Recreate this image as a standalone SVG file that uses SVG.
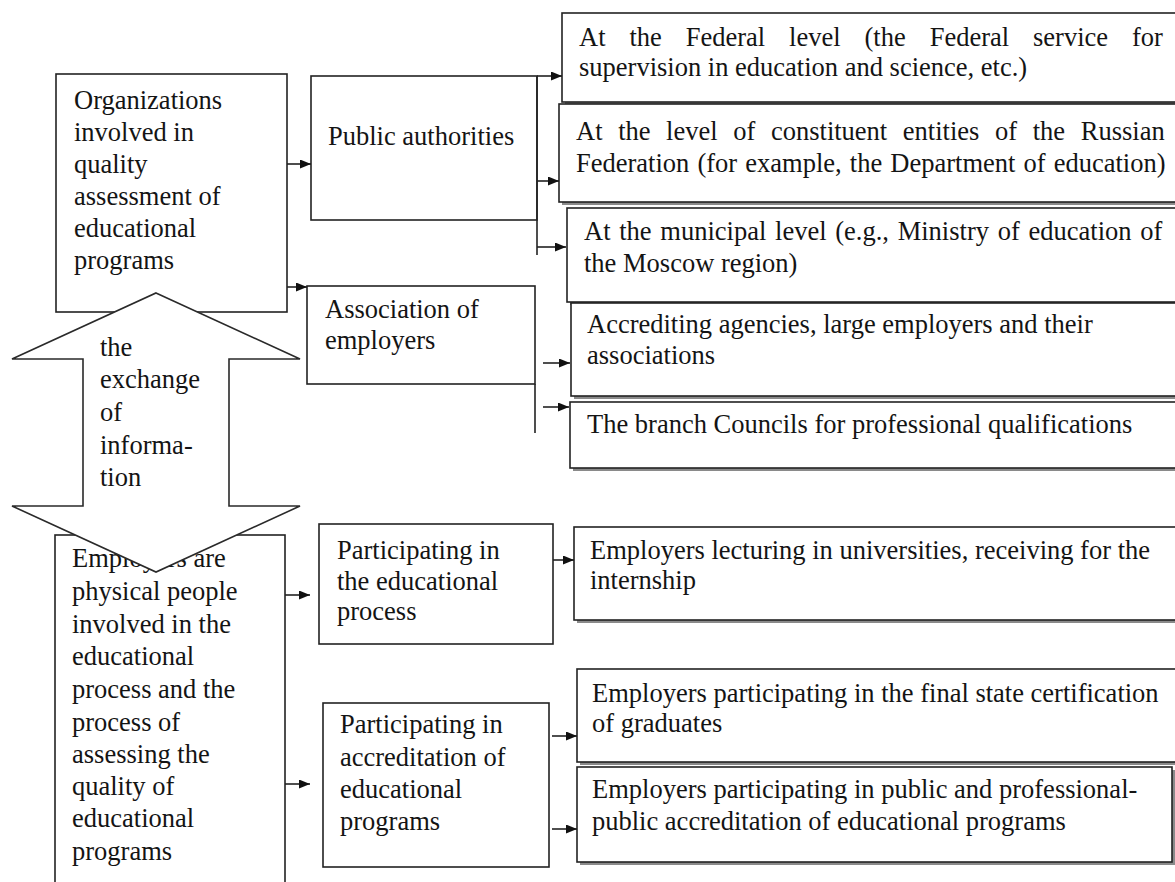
<svg xmlns="http://www.w3.org/2000/svg" width="1175" height="882" viewBox="0 0 1175 882">
<style>
.box{fill:#fff;stroke:#222;stroke-width:1.6}
.sh{fill:#8a8a8a}
.t{font-family:"Liberation Serif","Times New Roman",serif;font-size:26.5px;fill:#141414}
.conn line{stroke:#222;stroke-width:1.6}
.big{fill:#fff;stroke:#2a2a2a;stroke-width:1.6}
</style>
<defs>
<marker id="ah" markerUnits="userSpaceOnUse" markerWidth="11" markerHeight="9" refX="11" refY="4.5" orient="auto">
<path d="M0,0 L11,4.5 L0,9 z" fill="#111"/>
</marker>
</defs>
<rect width="1175" height="882" fill="#fff"/>

<g id="emp">
<rect class="box" x="55" y="535" width="230" height="370"/>
<text class="t" x="72"><tspan x="72" y="567">Employers are</tspan><tspan x="72" y="600">physical people</tspan><tspan x="72" y="633">involved in the</tspan><tspan x="72" y="665">educational</tspan><tspan x="72" y="698">process and the</tspan><tspan x="72" y="731">process of</tspan><tspan x="72" y="763">assessing the</tspan><tspan x="72" y="795">quality of</tspan><tspan x="72" y="827">educational</tspan><tspan x="72" y="860">programs</tspan></text>
</g>

<g id="org">
<rect class="box" x="56" y="74" width="231" height="238"/>
<text class="t"><tspan x="74" y="109">Organizations</tspan><tspan x="74" y="141">involved in</tspan><tspan x="74" y="173">quality</tspan><tspan x="74" y="205">assessment of</tspan><tspan x="74" y="237">educational</tspan><tspan x="74" y="269">programs</tspan></text>
</g>

<g id="exchange">
<polygon class="big" points="156,293 300,359 229,359 229,506 300,506 156,572 12,506 83,506 83,359 12,359"/>
<text class="t"><tspan x="100" y="356">the</tspan><tspan x="100" y="388">exchange</tspan><tspan x="100" y="421">of</tspan><tspan x="100" y="454">informa-</tspan><tspan x="100" y="486">tion</tspan></text>
</g>

<g id="pa">
<rect class="box" x="311" y="76" width="226" height="144"/>
<text class="t" x="328" y="145">Public authorities</text>
</g>

<g id="assoc">
<rect class="box" x="307" y="286" width="228" height="98"/>
<text class="t"><tspan x="325" y="318">Association of</tspan><tspan x="325" y="349">employers</tspan></text>
</g>

<g id="part1">
<rect class="box" x="319" y="524" width="234" height="120"/>
<text class="t"><tspan x="337" y="559">Participating in</tspan><tspan x="337" y="590">the educational</tspan><tspan x="337" y="620">process</tspan></text>
</g>

<g id="part2">
<rect class="box" x="323" y="703" width="226" height="164"/>
<text class="t"><tspan x="340" y="733">Participating in</tspan><tspan x="340" y="766">accreditation of</tspan><tspan x="340" y="798">educational</tspan><tspan x="340" y="830">programs</tspan></text>
</g>

<g id="federal">
<rect class="sh" x="565" y="16" width="620" height="89"/>
<rect class="box" x="562" y="13" width="620" height="89"/>
<text class="t"><tspan x="579" y="46" word-spacing="17.3">At the Federal level (the Federal service for</tspan><tspan x="579" y="76">supervision in education and science, etc.)</tspan></text>
</g>

<g id="subject">
<rect class="sh" x="562" y="107" width="620" height="98"/>
<rect class="box" x="559" y="104" width="620" height="98"/>
<text class="t"><tspan x="576" y="140" word-spacing="9">At the level of constituent entities of the Russian</tspan><tspan x="576" y="172" word-spacing="1.5">Federation (for example, the Department of education)</tspan></text>
</g>

<g id="municipal">
<rect class="sh" x="570" y="211" width="620" height="94"/>
<rect class="box" x="567" y="208" width="620" height="94"/>
<text class="t"><tspan x="584" y="240" word-spacing="2.1">At the municipal level (e.g., Ministry of education of</tspan><tspan x="584" y="272">the Moscow region)</tspan></text>
</g>

<g id="accrediting">
<rect class="sh" x="574" y="306" width="620" height="93"/>
<rect class="box" x="571" y="303" width="620" height="93"/>
<text class="t"><tspan x="587" y="333">Accrediting agencies, large employers and their</tspan><tspan x="587" y="364">associations</tspan></text>
</g>

<g id="branch">
<rect class="sh" x="573" y="405" width="620" height="66"/>
<rect class="box" x="570" y="402" width="620" height="66"/>
<text class="t" x="587" y="433">The branch Councils for professional qualifications</text>
</g>

<g id="lecturing">
<rect class="sh" x="577" y="530" width="620" height="93"/>
<rect class="box" x="574" y="527" width="620" height="93"/>
<text class="t"><tspan x="590" y="559">Employers lecturing in universities, receiving for the</tspan><tspan x="590" y="589">internship</tspan></text>
</g>

<g id="certification">
<rect class="sh" x="580" y="672" width="620" height="93"/>
<rect class="box" x="577" y="669" width="620" height="93"/>
<text class="t"><tspan x="592" y="702">Employers participating in the final state certification</tspan><tspan x="592" y="732">of graduates</tspan></text>
</g>

<g id="publicacc">
<rect class="sh" x="580" y="770" width="595" height="95"/>
<rect class="box" x="577" y="767" width="595" height="95"/>
<text class="t"><tspan x="592" y="798">Employers participating in public and professional-</tspan><tspan x="592" y="830">public accreditation of educational programs</tspan></text>
</g>

<g class="conn" id="connectors">
<line x1="287" y1="164" x2="311" y2="164" marker-end="url(#ah)"/>
<line x1="287" y1="287" x2="307" y2="287" marker-end="url(#ah)"/>
<line x1="537" y1="76" x2="537" y2="255"/>
<line x1="537" y1="76" x2="562" y2="76" marker-end="url(#ah)"/>
<line x1="537" y1="181" x2="559" y2="181" marker-end="url(#ah)"/>
<line x1="537" y1="247" x2="566" y2="247" marker-end="url(#ah)"/>
<line x1="535" y1="384" x2="535" y2="433"/>
<line x1="543" y1="363" x2="570" y2="363" marker-end="url(#ah)"/>
<line x1="543" y1="407" x2="569" y2="407" marker-end="url(#ah)"/>
<line x1="285" y1="595" x2="310" y2="595" marker-end="url(#ah)"/>
<line x1="285" y1="784" x2="310" y2="784" marker-end="url(#ah)"/>
<line x1="553" y1="560" x2="574" y2="560" marker-end="url(#ah)"/>
<line x1="552" y1="736" x2="577" y2="736" marker-end="url(#ah)"/>
<line x1="552" y1="829" x2="577" y2="829" marker-end="url(#ah)"/>
</g>
</svg>
